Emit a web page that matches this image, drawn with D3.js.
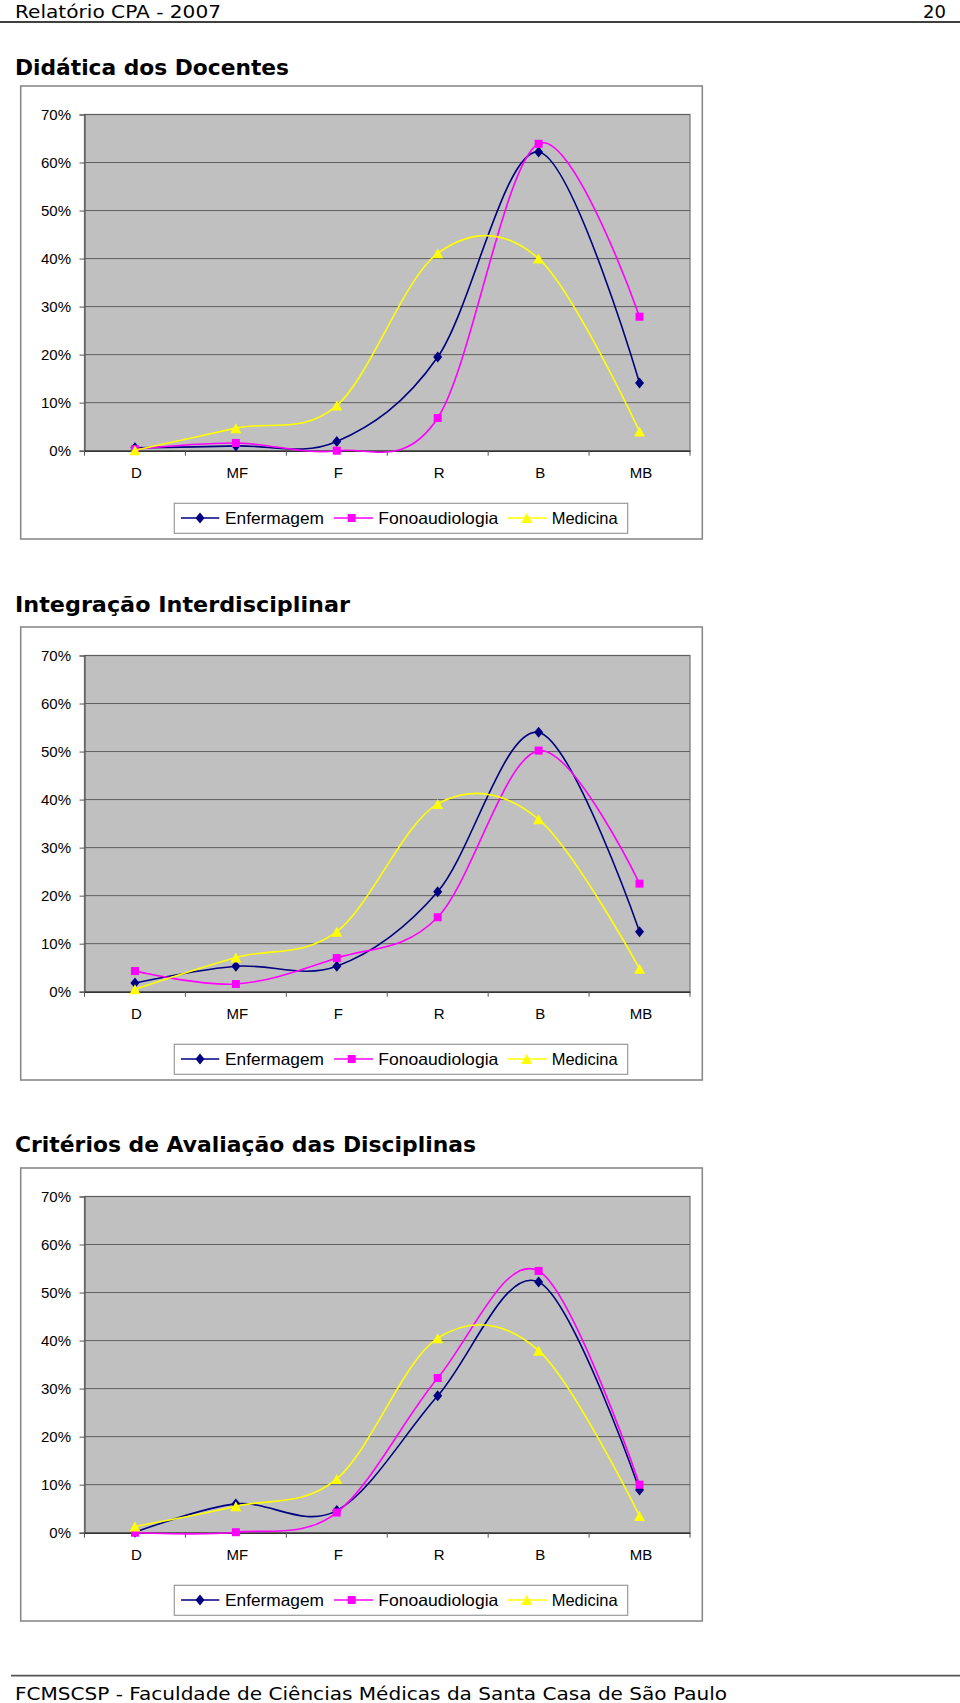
<!DOCTYPE html>
<html>
<head>
<meta charset="utf-8">
<script src="https://cdn.jsdelivr.net/npm/d3@7"></script>
<style>
  html, body { margin: 0; padding: 0; background: #ffffff; }
  svg { display: block; }
</style>
</head>
<body>
<div id="chart"></div>
<script>
// ---------------- DATA ----------------
const categories = ["D", "MF", "F", "R", "B", "MB"];
const seriesNames = ["Enfermagem", "Fonoaudiologia", "Medicina"];
const seriesColors = ["#000080", "#FF00FF", "#FFFF00"];
const seriesMarkers = ["diamond", "square", "triangle"];
const yTickValues = [0, 10, 20, 30, 40, 50, 60, 70];

const chartTitles = [
  "Didática dos Docentes",
  "Integração Interdisciplinar",
  "Critérios de Avaliação das Disciplinas"
];

// Didática dos Docentes (%)
const didaticaEnfermagem     = [0.6, 1.0, 1.9, 19.5, 62.2, 14.1];
const didaticaFonoaudiologia = [0.3, 1.6, 0.0, 6.8, 63.9, 27.9];
const didaticaMedicina       = [0.1, 4.7, 9.4, 41.1, 40.0, 4.0];

// Integração Interdisciplinar (%)
const integracaoEnfermagem     = [1.8, 5.3, 5.3, 20.8, 54.0, 12.5];
const integracaoFonoaudiologia = [4.3, 1.6, 7.0, 15.5, 50.2, 22.5];
const integracaoMedicina       = [0.5, 7.1, 12.5, 39.1, 35.9, 4.8];

// Critérios de Avaliação das Disciplinas (%)
const criteriosEnfermagem     = [0.1, 6.0, 4.6, 28.5, 52.2, 8.9];
const criteriosFonoaudiologia = [0.0, 0.1, 4.2, 32.2, 54.5, 10.0];
const criteriosMedicina       = [1.3, 5.5, 11.2, 40.5, 37.9, 3.5];

const chartSeries = [
  [didaticaEnfermagem, didaticaFonoaudiologia, didaticaMedicina],
  [integracaoEnfermagem, integracaoFonoaudiologia, integracaoMedicina],
  [criteriosEnfermagem, criteriosFonoaudiologia, criteriosMedicina]
];

// ---------------- LAYOUT ----------------
const W = 960, H = 1703;
const chartStep = 541;
const titleBaselines = [75, 611.5, 1152];
const titleWidths = [274, 335, 461];

const svg = d3.select("#chart").append("svg")
  .attr("width", W).attr("height", H)
  .attr("viewBox", `0 0 ${W} ${H}`);

svg.append("rect").attr("width", W).attr("height", H).attr("fill", "#fff");

const headerFont = "'DejaVu Sans', Verdana, sans-serif";
const chartFont = "'Liberation Sans', Arial, sans-serif";

// Header
svg.append("text").attr("x", 15).attr("y", 17.5)
  .attr("font-family", headerFont).attr("font-size", 18)
  .attr("textLength", 206).attr("lengthAdjust", "spacingAndGlyphs")
  .attr("fill", "#000").text("Relatório CPA - 2007");
svg.append("text").attr("x", 946).attr("y", 17.5).attr("text-anchor", "end")
  .attr("font-family", headerFont).attr("font-size", 18)
  .attr("fill", "#000").text("20");
svg.append("line").attr("x1", 0).attr("x2", W).attr("y1", 22).attr("y2", 22)
  .attr("stroke", "#000").attr("stroke-width", 1.4);

// Footer
svg.append("line").attr("x1", 11).attr("x2", W).attr("y1", 1675.7).attr("y2", 1675.7)
  .attr("stroke", "#555").attr("stroke-width", 1.8);
svg.append("text").attr("x", 15).attr("y", 1700)
  .attr("font-family", headerFont).attr("font-size", 18)
  .attr("textLength", 712).attr("lengthAdjust", "spacingAndGlyphs")
  .attr("fill", "#000").text("FCMSCSP - Faculdade de Ciências Médicas da Santa Casa de São Paulo");

function markerPath(type, cx, cy) {
  if (type === "diamond") {
    const w = 4.5, h = 5.5;
    return `M${cx},${cy - h}L${cx + w},${cy}L${cx},${cy + h}L${cx - w},${cy}Z`;
  } else if (type === "square") {
    const s = 4;
    return `M${cx - s},${cy - s}H${cx + s}V${cy + s}H${cx - s}Z`;
  } else {
    const w = 5.5, h = 5;
    return `M${cx},${cy - h}L${cx + w},${cy + h}L${cx - w},${cy + h}Z`;
  }
}

chartSeries.forEach((seriesList, ci) => {
  const dy = ci * chartStep;
  const g = svg.append("g");

  // Title
  g.append("text").attr("x", 15).attr("y", titleBaselines[ci])
    .attr("font-family", headerFont).attr("font-size", 21).attr("font-weight", "bold")
    .attr("textLength", titleWidths[ci]).attr("lengthAdjust", "spacingAndGlyphs")
    .attr("fill", "#000").text(chartTitles[ci]);

  // Outer chart box
  g.append("rect").attr("x", 20.7).attr("y", 86 + dy).attr("width", 681.6).attr("height", 453)
    .attr("fill", "#fff").attr("stroke", "#8a8a8a").attr("stroke-width", 1.6);

  const plot = { x: 84.5, y: 114.5 + dy, w: 605.5, h: 336.2 };

  const x = d3.scaleBand().domain(categories).range([plot.x, plot.x + plot.w]);
  const y = d3.scaleLinear().domain([0, 70]).range([plot.y + plot.h, plot.y]);

  // Plot area
  g.append("rect").attr("x", plot.x).attr("y", plot.y).attr("width", plot.w).attr("height", plot.h)
    .attr("fill", "#C0C0C0").attr("stroke", "#808080").attr("stroke-width", 1.3);

  // Gridlines
  g.append("g").selectAll("line").data(yTickValues.filter(v => v > 0)).join("line")
    .attr("x1", plot.x).attr("x2", plot.x + plot.w)
    .attr("y1", d => y(d)).attr("y2", d => y(d))
    .attr("stroke", "#5f5f5f").attr("stroke-width", 1);

  // Y axis
  const yAxis = d3.axisLeft(y).tickValues(yTickValues).tickSize(5).tickPadding(8)
    .tickFormat(d => d + "%");
  const ya = g.append("g").attr("transform", `translate(${plot.x},0)`).call(yAxis);
  ya.select(".domain").attr("stroke", "#555").attr("stroke-width", 1.2);
  ya.selectAll(".tick line").attr("stroke", "#555");
  ya.selectAll("text").attr("font-family", chartFont).attr("font-size", 15).attr("fill", "#000")
    .attr("dx", -0.5);

  // X axis
  const xAxis = d3.axisBottom(x).tickSize(0).tickPadding(17);
  const xa = g.append("g").attr("transform", `translate(0,${plot.y + plot.h})`).call(xAxis);
  xa.select(".domain").attr("stroke", "#333").attr("stroke-width", 1.4);
  xa.selectAll("text").attr("font-family", chartFont).attr("font-size", 15).attr("fill", "#000")
    .attr("dx", 1.5);
  // category boundary tick marks
  const boundaries = categories.map(c => x(c)).concat([plot.x + plot.w]);
  g.append("g").selectAll("line").data(boundaries).join("line")
    .attr("x1", d => d).attr("x2", d => d)
    .attr("y1", plot.y + plot.h).attr("y2", plot.y + plot.h + 5)
    .attr("stroke", "#555").attr("stroke-width", 1);

  // Series lines
  const line = d3.line()
    .x((d, i) => x(categories[i]) + x.bandwidth() / 2)
    .y(d => y(d))
    .curve(d3.curveCardinal.tension(0));

  seriesList.forEach((vals, si) => {
    g.append("path").datum(vals).attr("d", line)
      .attr("fill", "none").attr("stroke", seriesColors[si]).attr("stroke-width", 1.6);
    g.append("g").selectAll("path").data(vals).join("path")
      .attr("d", (d, i) => markerPath(seriesMarkers[si], x(categories[i]) + x.bandwidth() / 2, y(d)))
      .attr("fill", seriesColors[si]);
  });

  // Legend
  const lg = g.append("g");
  lg.append("rect").attr("x", 174.3).attr("y", 503.3 + dy).attr("width", 453.4).attr("height", 30)
    .attr("fill", "#fff").attr("stroke", "#999").attr("stroke-width", 1.2);
  const legendItems = [
    { lx1: 181, lx2: 219.3, mx: 200, tx: 225, tw: 99 },
    { lx1: 334, lx2: 373, mx: 351.7, tx: 378.3, tw: 120 },
    { lx1: 507.7, lx2: 546.7, mx: 526.7, tx: 551.7, tw: 66 }
  ];
  const ly = 518 + dy;
  seriesNames.forEach((name, si) => {
    const it = legendItems[si];
    lg.append("line").attr("x1", it.lx1).attr("x2", it.lx2).attr("y1", ly).attr("y2", ly)
      .attr("stroke", seriesColors[si]).attr("stroke-width", 1.6);
    lg.append("path").attr("d", markerPath(seriesMarkers[si], it.mx, ly)).attr("fill", seriesColors[si]);
    lg.append("text").attr("x", it.tx).attr("y", ly + 6)
      .attr("font-family", chartFont).attr("font-size", 16.5).attr("fill", "#000")
      .attr("textLength", it.tw).attr("lengthAdjust", "spacingAndGlyphs")
      .text(name);
  });
});
</script>
</body>
</html>
